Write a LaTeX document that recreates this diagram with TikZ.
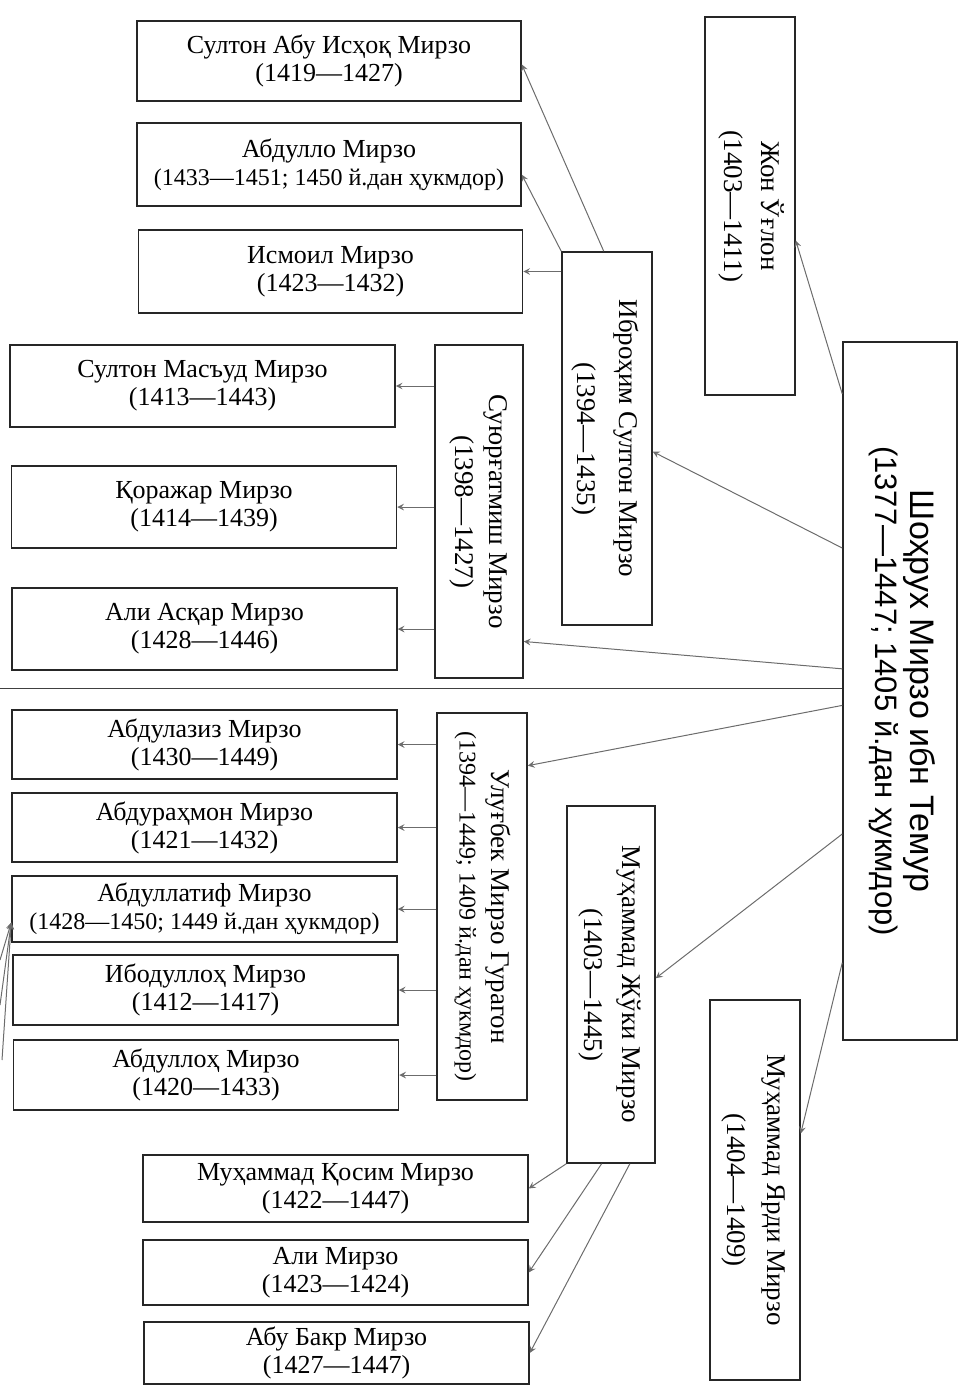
\documentclass[tikz,border=0pt]{standalone}
\usepackage{fontspec}
\setmainfont{Liberation Serif}
\setsansfont{Liberation Sans}
\usepackage{graphicx}
\usetikzlibrary{arrows, positioning, calc}

% two-line label turned to read downwards
\newcommand{\vlabel}[2]{\rotatebox{-90}{\begin{tabular}{@{}c@{}}#1\\#2\end{tabular}}}
% long date line, set a bit smaller
\newcommand{\longdate}[1]{{\fontsize{12}{14}\selectfont #1}}

\begin{document}
\begin{tikzpicture}[x=0.5pt, y=-0.5pt, >=stealth,
  kid/.style={draw=black!85, line width=0.75pt, align=center, inner sep=2pt,
    font=\fontsize{13}{14}\selectfont, minimum width=192pt},
  son/.style={draw=black!85, line width=0.75pt, inner sep=0pt,
    font=\fontsize{13.5}{18.5}\selectfont, minimum width=45pt},
  link/.style={->, gray!85!black, line width=0.5pt}]
\useasboundingbox (0,0) rectangle (964,1391);

% Shohrux
\node[son, minimum width=57pt, minimum height=349pt,
  font=\sffamily\fontsize{17}{17.5}\selectfont] (shah) at (900,691)
  {\vlabel{Шоҳрух Мирзо ибн Темур}{\fontsize{15.5}{17.5}\selectfont(1377—1447; 1405 й.дан ҳукмдор)}};

% Sons
\node[son, minimum height=189pt] (jon) at (750,206) {\vlabel{Жон Ўғлон}{(1403—1411)}};
\node[son, minimum height=186.5pt, font=\fontsize{13.5}{21}\selectfont] (ibr) at (607,438.5) {\vlabel{Иброҳим Султон Мирзо}{(1394—1435)}};
\node[son, minimum width=44pt, minimum height=166.5pt, font=\fontsize{13.5}{17}\selectfont] (suy) at (479,511.5) {\vlabel{Суюрғатмиш Мирзо}{(1398—1427)}};
\node[son, minimum height=193.5pt, font=\fontsize{13.5}{16}\selectfont] (ulu) at (482,906.5) {\vlabel{Улуғбек Мирзо Гурагон}{\longdate{(1394—1449; 1409 й.дан ҳукмдор)}}};
\node[son, minimum width=44pt, minimum height=178.5pt, font=\fontsize{13.5}{19}\selectfont] (juki) at (611,984.5) {\vlabel{Муҳаммад Жўки Мирзо}{(1403—1445)}};
\node[son, minimum height=190pt, font=\fontsize{13.5}{20}\selectfont] (yardi) at (755,1190) {\vlabel{Муҳаммад Ярди Мирзо}{(1404—1409)}};

% Ibrohim Sulton's sons
\node[kid, minimum height=40pt] (abuis) at (329,61) {Султон Абу Исҳоқ Мирзо\\(1419—1427)};
\node[kid, minimum height=41.5pt] (abdullo) at (329,164.5) {Абдулло Мирзо\\\longdate{(1433—1451; 1450 й.дан ҳукмдор)}};
\node[kid, minimum height=41.5pt] (ismoil) at (330.5,271.5) {Исмоил Мирзо\\(1423—1432)};

% Suyurgʻatmish's sons
\node[kid, minimum width=192.5pt, minimum height=41pt] (masud) at (202.5,386) {Султон Масъуд Мирзо\\(1413—1443)};
\node[kid, minimum width=192.5pt, minimum height=41pt] (qorajar) at (204,507) {Қоражар Мирзо\\(1414—1439)};
\node[kid, minimum width=192.5pt, minimum height=41pt] (asqar) at (204.5,629) {Али Асқар Мирзо\\(1428—1446)};

% Ulugʻbek's sons
\node[kid, minimum width=192.5pt, minimum height=34.5pt] (aziz) at (204.5,744.5) {Абдулазиз Мирзо\\(1430—1449)};
\node[kid, minimum width=192.5pt, minimum height=34.5pt] (rahmon) at (204.5,827.5) {Абдураҳмон Мирзо\\(1421—1432)};
\node[kid, minimum width=192.5pt, minimum height=33pt] (latif) at (204.5,909) {Абдуллатиф Мирзо\\\longdate{(1428—1450; 1449 й.дан ҳукмдор)}};
\node[kid, minimum width=192.5pt, minimum height=35pt] (ibod) at (205.5,990) {Ибодуллоҳ Мирзо\\(1412—1417)};
\node[kid, minimum width=192.5pt, minimum height=35pt] (abdulloh) at (206,1075) {Абдуллоҳ Мирзо\\(1420—1433)};

% Muhammad Joʻki's sons
\node[kid, minimum width=192.5pt, minimum height=33.5pt] (qosim) at (335.5,1188.5) {Муҳаммад Қосим Мирзо\\(1422—1447)};
\node[kid, minimum width=192.5pt, minimum height=32.5pt] (ali) at (335.5,1272.5) {Али Мирзо\\(1423—1424)};
\node[kid, minimum width=192.5pt, minimum height=31pt] (abubakr) at (336.5,1353) {Абу Бакр Мирзо\\(1427—1447)};

% cut across the page
\coordinate (cut) at (0,688);
\draw[black!75, line width=0.5pt] (cut) -- (cut -| shah.west);

% Shohrux -> sons
\draw[link] (shah.101.6) -- (jon.-37.1);
\draw[link] (shah.112.7) -- (ibr.-16.7);
\draw[link] (shah.159.8) -- (suy.-71.1);
\draw[link] (shah.194.7) -- (ulu.72.9);
\draw[link] (shah.248) -- (juki.8.4);
\draw[link] (shah.258.3) -- (yardi.51.7);

% Ibrohim Sulton -> sons
\draw[link] (ibr.91.2) -- (abuis.-1.2);
\draw[link] (ibr.north west) -- (abdullo.-3.7);
\draw[link] (ibr.west |- ismoil.east) -- (ismoil.east);

% Suyurgʻatmish -> sons
\foreach \k in {masud, qorajar, asqar}
  \draw[link] (suy.west |- \k.east) -- (\k.east);

% Ulugʻbek -> sons
\foreach \k in {aziz, rahmon, latif, ibod, abdulloh}
  \draw[link] (ulu.west |- \k.east) -- (\k.east);

% Muhammad Joʻki -> sons
\draw[link] (juki.-104.9) -- (qosim.east);
\draw[link] (juki.267.1) -- (ali.east);
\draw[link] (juki.276.7) -- (abubakr.east);

% lines coming in from the left margin
\coordinate (in1) at (0,960);
\coordinate (in2) at (0,1005);
\coordinate (in3) at (2,1060);
\foreach \c in {in1, in2, in3}
  \draw[link] (\c) -- (latif.184.2);
\end{tikzpicture}
\end{document}
